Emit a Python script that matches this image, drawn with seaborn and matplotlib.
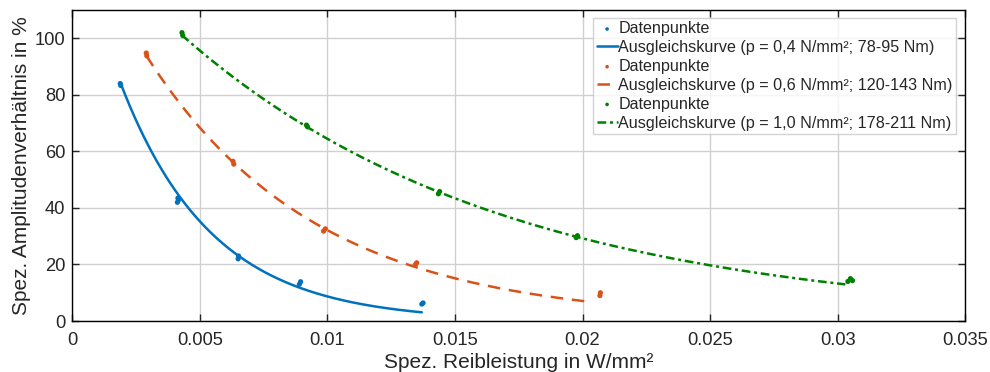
import numpy as np
import pandas as pd
import matplotlib
matplotlib.use("Agg")
import matplotlib.pyplot as plt
import seaborn as sns

# --- data ---
blue_x = [0.00188, 0.00190, 0.00412, 0.00414, 0.00416, 0.00650, 0.00652, 0.00890, 0.00895, 0.01370, 0.01375]
blue_y = [84.0, 83.3, 42.0, 43.5, 42.8, 22.0, 23.0, 13.0, 13.9, 6.0, 6.4]
orange_x = [0.00290, 0.00292, 0.00630, 0.00633, 0.00985, 0.00992, 0.01345, 0.01350, 0.02068, 0.02070]
orange_y = [94.8, 93.8, 56.5, 55.5, 31.8, 32.6, 20.0, 20.6, 9.0, 10.0]
green_x = [0.00430, 0.00433, 0.00918, 0.00922, 0.01435, 0.01440, 0.01975, 0.01980, 0.03040, 0.03050, 0.03058]
green_y = [102.0, 101.0, 69.3, 68.7, 45.0, 45.8, 29.5, 30.2, 14.0, 15.0, 14.3]

# fit curves: y = a * exp(-k * x) over the fitted range
fit_a = [143.0, 145.5, 142.0]
fit_k = [280.0, 151.0, 79.0]
fit_xmin = [0.00190, 0.00290, 0.00430]
fit_xmax = [0.01370, 0.02015, 0.03030]

labels = ["Ausgleichskurve (p = 0,4 N/mm²; 78-95 Nm)",
          "Ausgleichskurve (p = 0,6 N/mm²; 120-143 Nm)",
          "Ausgleichskurve (p = 1,0 N/mm²; 178-211 Nm)"]
colors = ["#0072BD", "#D95319", "#008000"]
styles = ["-", (0, (5, 3.5)), (0, (3.5, 1.5, 1.2, 1.5))]

sns.set_theme(style="whitegrid")
plt.rcParams["font.family"] = ["Liberation Sans", "DejaVu Sans"]

fig, ax = plt.subplots(figsize=(9.9, 3.72), dpi=100)
fig.subplots_adjust(left=0.073, right=0.975, top=0.973, bottom=0.137)

pts = [(blue_x, blue_y), (orange_x, orange_y), (green_x, green_y)]
for i in range(3):
    dfp = pd.DataFrame({"x": pts[i][0], "y": pts[i][1]})
    sns.scatterplot(data=dfp, x="x", y="y", ax=ax, color=colors[i], s=14,
                    edgecolor="none", label="Datenpunkte", zorder=3)
    xs = np.linspace(fit_xmin[i], fit_xmax[i], 200)
    dfl = pd.DataFrame({"x": xs, "y": fit_a[i] * np.exp(-fit_k[i] * xs)})
    sns.lineplot(data=dfl, x="x", y="y", ax=ax, color=colors[i], lw=1.8,
                 linestyle=styles[i], label=labels[i], zorder=2)

ax.set_xlim(0, 0.035)
ax.set_ylim(0, 110)
ax.set_xticks([0, 0.005, 0.01, 0.015, 0.02, 0.025, 0.03, 0.035])
ax.set_xticklabels(["0", "0.005", "0.01", "0.015", "0.02", "0.025", "0.03", "0.035"])
ax.set_yticks([0, 20, 40, 60, 80, 100])
ax.set_xlabel("Spez. Reibleistung in W/mm²", fontsize=15, color="#262626", labelpad=3)
ax.set_ylabel("Spez. Amplitudenverhältnis in %", fontsize=15, color="#262626", labelpad=3)
ax.tick_params(axis="both", labelsize=13.2, colors="#262626", direction="in",
               length=5, width=1, top=True, right=True, bottom=True, left=True, pad=5)
ax.tick_params(axis="x", pad=8)
ax.grid(True, color="#d0d0d0", lw=1)
ax.set_facecolor("white")
for s in ax.spines.values():
    s.set_visible(True)
    s.set_color("black")
    s.set_linewidth(1)

leg = ax.legend(loc="upper right", bbox_to_anchor=(0.995, 0.99), fontsize=11.6,
                frameon=True, fancybox=False, handlelength=1.3, handletextpad=0.05,
                labelspacing=0.24, borderpad=0.2, borderaxespad=0.3, markerscale=0.7)
leg.get_frame().set_edgecolor("#c8c8c8")
leg.get_frame().set_linewidth(1)

fig.savefig("out.png", dpi=100)
